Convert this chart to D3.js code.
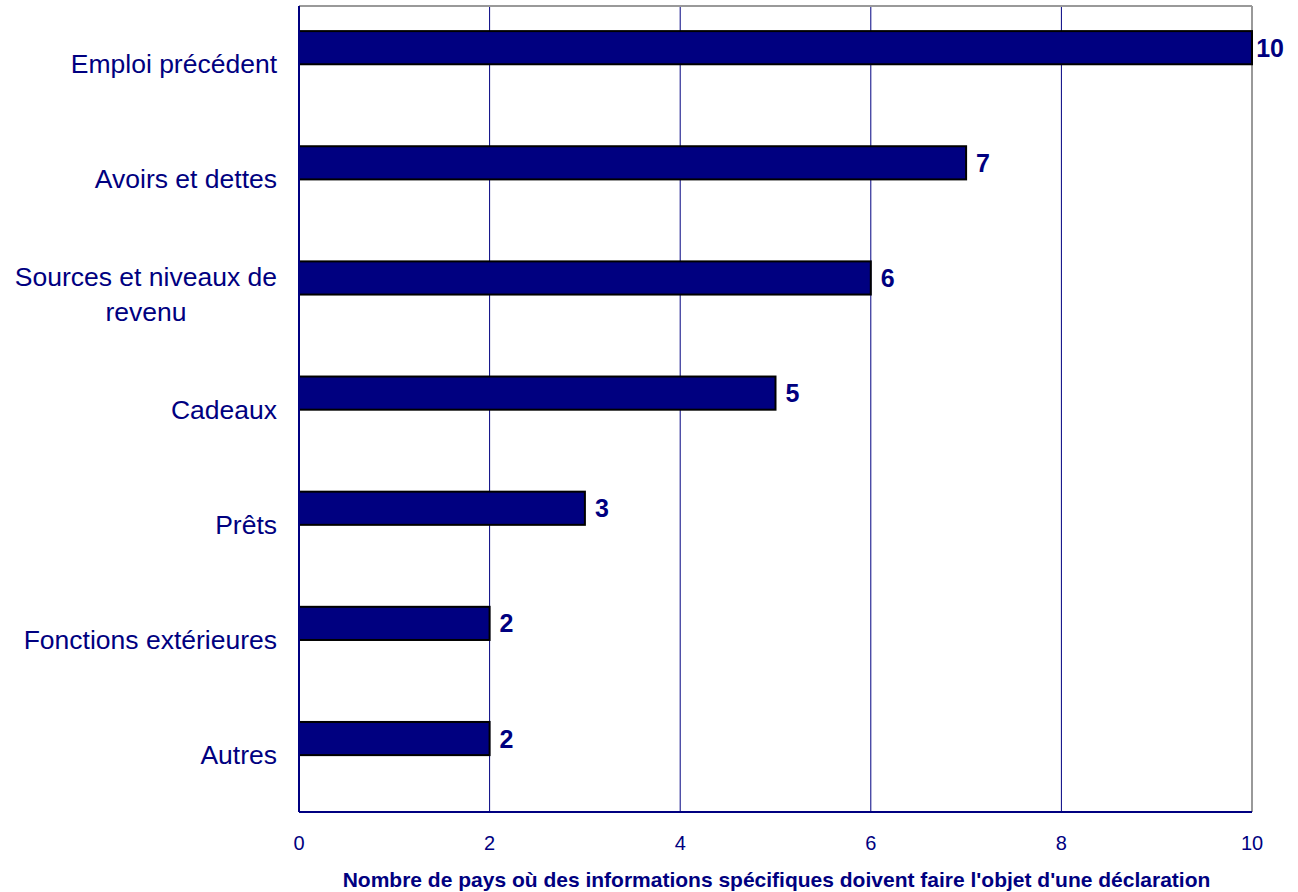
<!DOCTYPE html>
<html>
<head>
<meta charset="utf-8">
<script src="https://cdn.jsdelivr.net/npm/d3@7"></script>
<style>
  html, body { margin: 0; padding: 0; background: #fff; }
  svg text { font-family: Arial, "Liberation Sans", sans-serif; fill: #000080; }
</style>
</head>
<body>
<svg id="chart" width="1298" height="892"></svg>
<script>
// Categories (top to bottom) and number of countries for each
const categories = [
  ["Emploi précédent"],
  ["Avoirs et dettes"],
  ["Sources et niveaux de", "revenu"],
  ["Cadeaux"],
  ["Prêts"],
  ["Fonctions extérieures"],
  ["Autres"]
];
const values = [10, 7, 6, 5, 3, 2, 2];
const xTicks = [0, 2, 4, 6, 8, 10];
const xTitle = "Nombre de pays où des informations spécifiques doivent faire l'objet d'une déclaration";

const navy = "#000080";
const svg = d3.select("#chart");
const plot = { left: 299, right: 1252, top: 6, bottom: 812 };

const x = d3.scaleLinear().domain([0, 10]).range([plot.left, plot.right]);
const y = d3.scaleBand().domain(d3.range(categories.length)).range([plot.top, plot.bottom]);
const bw = y.bandwidth();

// vertical gridlines
svg.append("g").selectAll("line")
  .data(xTicks.filter(t => t > 0 && t < 10))
  .join("line")
  .attr("x1", d => x(d)).attr("x2", d => x(d))
  .attr("y1", plot.top).attr("y2", plot.bottom)
  .attr("stroke", navy).attr("stroke-width", 1);

// plot frame: grey top/right, navy left/bottom
svg.append("line").attr("x1", plot.left).attr("x2", plot.right)
  .attr("y1", plot.top).attr("y2", plot.top).attr("stroke", "#999").attr("stroke-width", 2);
svg.append("line").attr("x1", plot.right).attr("x2", plot.right)
  .attr("y1", plot.top).attr("y2", plot.bottom).attr("stroke", "#999").attr("stroke-width", 2);

// bars
const barTop = i => y(i) + bw * 0.218;
const barH = bw * 0.288;
svg.append("g").selectAll("rect")
  .data(values)
  .join("rect")
  .attr("x", x(0))
  .attr("y", (d, i) => barTop(i))
  .attr("width", d => x(d) - x(0))
  .attr("height", barH)
  .attr("fill", navy)
  .attr("stroke", "#000")
  .attr("stroke-width", 2);

// axes lines
svg.append("line").attr("x1", plot.left).attr("x2", plot.right)
  .attr("y1", plot.bottom).attr("y2", plot.bottom).attr("stroke", navy).attr("stroke-width", 2);
svg.append("line").attr("x1", plot.left).attr("x2", plot.left)
  .attr("y1", plot.top).attr("y2", plot.bottom).attr("stroke", navy).attr("stroke-width", 2);

// value labels, kept inside the right edge of the canvas
svg.append("g").selectAll("text")
  .data(values)
  .join("text")
  .attr("y", (d, i) => barTop(i) + barH / 2)
  .attr("dy", "0.36em")
  .attr("font-size", 25)
  .attr("font-weight", "bold")
  .text(d => d)
  .attr("x", function (d) {
    const w = this.getComputedTextLength();
    return Math.min(x(d) + 10, 1284 - w);
  });

// category labels
const catG = svg.append("g");
categories.forEach((lines, i) => {
  const cy = y(i) + bw / 2;
  const lh = 35;
  const t = catG.append("text").attr("font-size", 26.5);
  lines.forEach((ln, j) => {
    t.append("tspan").attr("x", 0).attr("y", cy + (j - (lines.length - 1) / 2) * lh).attr("dy", "0.36em").text(ln);
  });
  if (lines.length === 1) {
    t.attr("text-anchor", "end").selectAll("tspan").attr("x", 277);
  } else {
    const w = d3.max(t.selectAll("tspan").nodes(), n => n.getComputedTextLength());
    t.attr("text-anchor", "middle").selectAll("tspan").attr("x", 277 - w / 2);
  }
});

// x tick labels
svg.append("g").selectAll("text")
  .data(xTicks)
  .join("text")
  .attr("x", d => x(d))
  .attr("y", 843)
  .attr("dy", "0.36em")
  .attr("text-anchor", "middle")
  .attr("font-size", 20)
  .text(d => d);

// x axis title
svg.append("text")
  .attr("x", (plot.left + plot.right) / 2 + 1)
  .attr("y", 879)
  .attr("dy", "0.36em")
  .attr("text-anchor", "middle")
  .attr("font-size", 21)
  .attr("font-weight", "bold")
  .text(xTitle);
</script>
</body>
</html>
